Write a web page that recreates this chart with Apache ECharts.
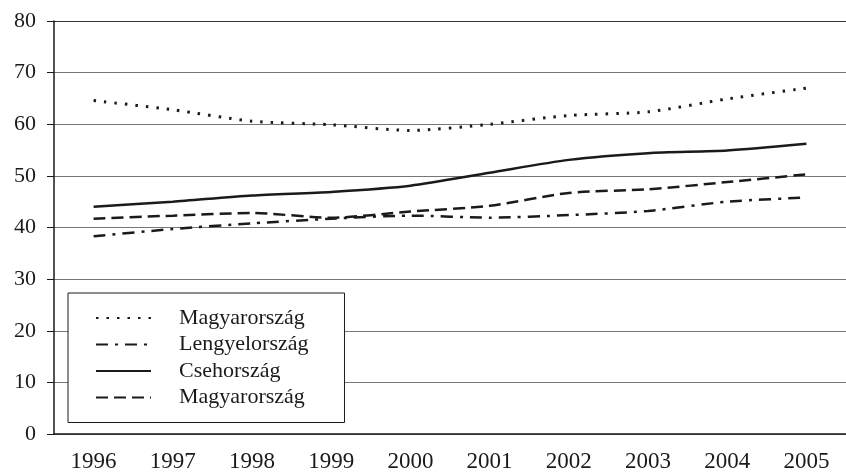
<!DOCTYPE html>
<html>
<head>
<meta charset="utf-8">
<script src="https://cdn.jsdelivr.net/npm/echarts@6/dist/echarts.min.js"></script>
<style>
  html, body { margin: 0; padding: 0; background: #fff; }
  #chart { width: 846px; height: 473px; }
</style>
</head>
<body>
<div id="chart"></div>
<script>
// adatok
const years = ['1996', '1997', '1998', '1999', '2000', '2001', '2002', '2003', '2004', '2005']
const magyarDotted = [64.6, 62.8, 60.6, 59.9, 58.8, 60.0, 61.7, 62.4, 64.9, 67.0]
const lengyel = [38.3, 39.7, 40.8, 41.7, 42.3, 41.9, 42.4, 43.2, 45.0, 45.8]
const cseh = [44.0, 45.0, 46.2, 46.9, 48.1, 50.6, 53.1, 54.4, 54.9, 56.2]
const magyarDashed = [41.7, 42.3, 42.8, 41.9, 43.1, 44.2, 46.7, 47.4, 48.8, 50.3]
const yTicks = [0, 10, 20, 30, 40, 50, 60, 70, 80]

const font = 'Liberation Serif'
const ink = '#1a1a1a'

const lineSeries = (name, data, type, width = 2.5) => ({
  name,
  type: 'line',
  data,
  smooth: 0.25,
  symbol: 'none',
  lineStyle: { color: ink, width, type },
  itemStyle: { color: ink }
})

// rácsvonalak: a felső (80) sötétebb
const gridColors = yTicks.map((v, i) => (i === yTicks.length - 1 ? '#333' : '#777'))

const chart = echarts.init(document.getElementById('chart'))

chart.setOption({
  animation: false,
  backgroundColor: '#fff',
  grid: { left: 54, top: 21, width: 800, height: 415 },
  xAxis: {
    type: 'category',
    data: years,
    boundaryGap: true,
    axisLine: { lineStyle: { color: ink, width: 1.5 } },
    axisTick: { length: 8, lineStyle: { color: ink } },
    axisLabel: { color: ink, fontFamily: font, fontSize: 23, margin: 16 },
    splitLine: { show: false }
  },
  yAxis: {
    type: 'value',
    min: yTicks[0],
    max: yTicks[yTicks.length - 1],
    interval: 10,
    axisLine: { show: true, lineStyle: { color: ink, width: 1.5 } },
    axisTick: { show: true, length: 7, lineStyle: { color: ink } },
    axisLabel: { color: ink, fontFamily: font, fontSize: 22, margin: 18 },
    splitLine: { lineStyle: { color: gridColors, width: 1.2 } }
  },
  legend: {
    orient: 'vertical',
    left: 68,
    top: 293,
    padding: [14, 36, 14, 27],
    borderColor: ink,
    borderWidth: 1,
    backgroundColor: '#fff',
    itemWidth: 55,
    itemHeight: 14,
    itemGap: 4.5,
    itemStyle: { opacity: 0 },
    data: ['Magyarország (1)', 'Lengyelország', 'Csehország', 'Magyarország (2)'],
    formatter: name => name.replace(/ \(\d\)$/, ''),
    textStyle: { color: ink, fontFamily: font, fontSize: 22, lineHeight: 22, padding: [0, 0, 0, 23] }
  },
  series: [
    lineSeries('Magyarország (1)', magyarDotted, [2.5, 8], 3),
    lineSeries('Lengyelország', lengyel, [12, 7, 3, 7]),
    lineSeries('Csehország', cseh, 'solid'),
    lineSeries('Magyarország (2)', magyarDashed, [12, 6])
  ]
})
</script>
</body>
</html>
